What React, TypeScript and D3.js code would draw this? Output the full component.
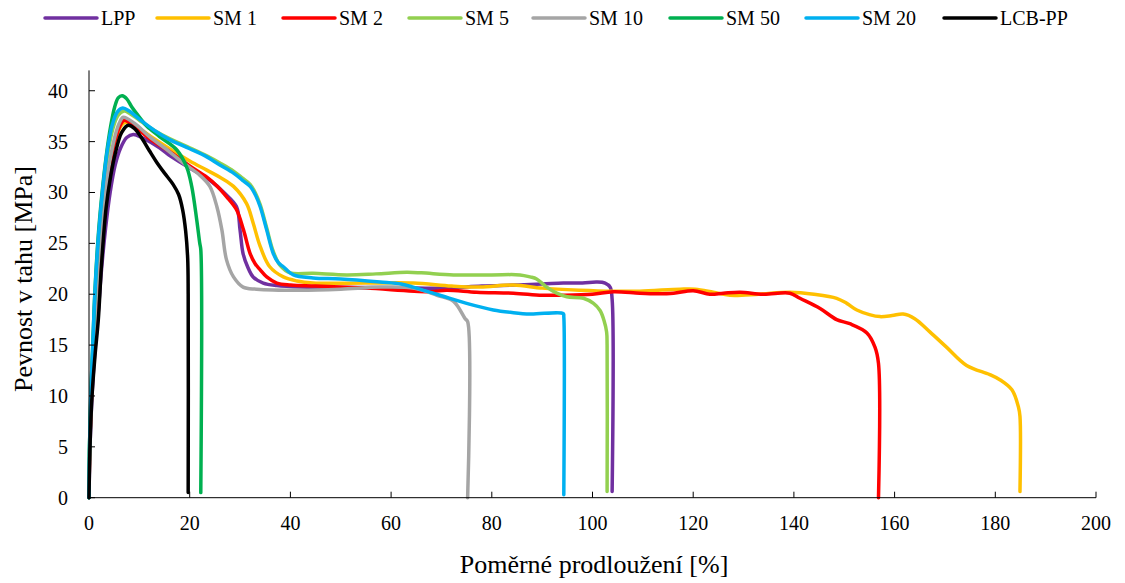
import React from "react";
import * as d3 from "d3";

type Pt = [number, number];

// Tensile curves: [relative elongation %, tensile strength MPa]
const lpp: Pt[] = [
  [0, 0], [0.2, 5], [0.6, 10], [1.1, 14], [1.8, 18], [2.5, 22.5], [3.3, 26.5], [4.2, 30], [5.2, 32.7],
  [6.3, 34.4], [7.5, 35.4], [8.8, 35.7], [10.5, 35.4], [14, 34.4], [16.1, 33.6], [20, 32.4], [24, 31.2],
  [27, 29.9], [29.3, 28.6], [30, 26.3], [30.6, 24.0], [31.5, 22.7], [32.6, 21.7], [34.6, 21.1], [37.3, 20.85],
  [42, 20.7], [55, 20.65], [65, 20.6], [71, 20.6], [78, 20.8], [84.3, 20.9], [90, 21.0], [94.2, 21.1],
  [98, 21.1], [100.8, 21.2], [102.5, 21.1], [103.5, 20.7], [103.9, 19.5], [103.9, 0.6],
];

const sm1: Pt[] = [
  [0, 0], [0.15, 5], [0.5, 10], [1.0, 15], [1.55, 20], [2.3, 25], [3.2, 29.2], [4.2, 32.6], [5.3, 35.1],
  [6.3, 36.5], [7.2, 36.9], [9, 36.6], [12, 35.6], [16, 34.3], [20, 33.1], [23.4, 32.2], [26, 31.5],
  [28.7, 30.6], [31.3, 28.9], [32.6, 27.0], [34, 24.7], [35.9, 22.7], [38.6, 21.7], [41.3, 21.3], [44.5, 21.1],
  [55, 21.1], [64.4, 21.1], [72, 20.8], [77.7, 20.7], [84.3, 20.9], [90, 20.6], [97.5, 20.4], [104, 20.3],
  [109.4, 20.3], [117.4, 20.5], [120.4, 20.5], [124, 20.2], [127.3, 19.9], [133, 20.0], [139.2, 20.2],
  [144, 20.0], [148.5, 19.6], [150.5, 19.1], [152.5, 18.45], [155, 18.0], [157.1, 17.8], [159.5, 17.9],
  [161.7, 18.05], [164, 17.6], [167, 16.3], [170.3, 14.8], [174.3, 13.0], [178.9, 12.1], [180.9, 11.6],
  [183.3, 10.6], [184.6, 8.9], [184.9, 8.0], [184.9, 0.6],
];

const sm2: Pt[] = [
  [0, 0], [0.15, 5], [0.5, 10], [1.0, 15], [1.55, 20], [2.3, 25], [3.2, 29.3], [4.2, 32.8], [5.3, 35.3],
  [6.2, 36.6], [7, 37.1], [9, 36.5], [12, 35.3], [16.7, 33.8], [20, 32.6], [23.4, 31.5], [25.5, 30.6],
  [27.3, 29.6], [29.3, 28.3], [30.7, 26.3], [32, 24.0], [33, 23.0], [34, 22.4], [35.3, 21.7], [37.3, 21.1],
  [40, 20.9], [45, 20.8], [55, 20.6], [67.7, 20.25], [71, 20.4], [77, 20.2], [84.3, 20.1], [90, 19.9],
  [94.2, 19.9], [100, 20.0], [104.1, 20.25], [109.4, 20.1], [113, 20.05], [116.1, 20.1], [120, 20.35],
  [123.3, 20.0], [126, 20.1], [129.3, 20.2], [133.9, 20.0], [139.2, 20.1], [141.2, 19.6], [145.2, 18.6],
  [148.5, 17.5], [151.1, 17.1], [154.5, 16.2], [156.1, 14.8], [156.8, 13.2], [156.8, 0],
];

const sm5: Pt[] = [
  [0, 0], [0.1, 5], [0.4, 10], [0.8, 15], [1.25, 20.2], [1.95, 25.5], [2.8, 30], [3.7, 33.7], [4.7, 36.2],
  [5.8, 37.6], [7, 38.0], [8, 37.8], [10, 37.1], [13, 36.1], [16, 35.3], [20, 34.4], [23.4, 33.6], [26, 32.9],
  [28.7, 32.1], [30.5, 31.4], [32, 30.8], [33, 30.0], [34, 28.8], [35.3, 26.5], [36.6, 24.2], [38, 22.8],
  [39.9, 22.1], [44.5, 22.05], [51.2, 21.9], [57, 22.0], [63.1, 22.15], [66, 22.1], [72.4, 21.9], [80, 21.9],
  [85.6, 21.9], [87.6, 21.7], [88.9, 21.5], [90.9, 20.7], [92.9, 20.1], [94.9, 19.75], [98.2, 19.6],
  [100.2, 19.1], [101.5, 18.4], [102.3, 17.4], [102.8, 16.3], [102.9, 15], [102.9, 0.6],
];

const sm10: Pt[] = [
  [0, 0], [0.15, 5], [0.5, 10], [0.95, 15], [1.5, 20], [2.2, 25], [3.1, 29.5], [4.1, 33], [5.2, 35.6],
  [6.0, 36.8], [6.8, 37.4], [9, 36.8], [12, 35.5], [16, 34.0], [19, 32.8], [22, 31.7], [24, 30.6],
  [25.4, 28.6], [26.4, 26.3], [27.3, 23.4], [28.7, 21.7], [30.6, 20.7], [33.3, 20.5], [42, 20.4], [50, 20.5],
  [58, 20.7], [64.4, 20.6], [69.1, 19.9], [72.4, 19.3], [74.7, 17.6], [75.2, 17.3], [75.2, 0],
];

const sm50: Pt[] = [
  [0, 0], [0.1, 5], [0.35, 10], [0.75, 15], [1.15, 20], [1.8, 25.5], [2.6, 30], [3.4, 33.5], [4.3, 36.5],
  [5.1, 38.4], [5.8, 39.3], [6.6, 39.5], [7.5, 39.2], [8.5, 38.4], [10, 37.4], [11.5, 36.5], [14, 35.5],
  [17.4, 34.2], [19.4, 32.5], [20.4, 30.6], [21.4, 27.3], [22.0, 25.0], [22.2, 24.4], [22.2, 0.5],
];

const sm20: Pt[] = [
  [0, 0], [0.1, 5], [0.35, 10], [0.75, 15], [1.2, 20.4], [1.9, 25.8], [2.7, 30.2], [3.6, 34], [4.6, 36.6],
  [5.6, 37.9], [6.7, 38.3], [8, 38.0], [10, 37.2], [13, 36.1], [16, 35.2], [20, 34.3], [23.4, 33.5],
  [26, 32.7], [28.7, 31.9], [30.5, 31.2], [32, 30.6], [33, 29.8], [34, 28.6], [35.3, 26.3], [36.6, 24.0],
  [37.6, 23.1], [38.6, 22.7], [40.6, 21.9], [44.5, 21.6], [50, 21.5], [57.8, 21.2], [62, 21.0], [64.4, 20.7],
  [67, 20.3], [69.7, 19.9], [75, 19.1], [80.3, 18.45], [84, 18.2], [87.6, 18.05], [94.2, 18.1], [94.3, 17.8],
  [94.3, 0.3],
];

const lcbpp: Pt[] = [
  [0, 0], [0.2, 5], [0.6, 10], [1.2, 14], [1.85, 17.5], [2.5, 23], [3.4, 28.5], [4.3, 31.6], [5.3, 34],
  [6.5, 35.9], [7.8, 36.6], [9, 36.3], [10.4, 35.4], [12, 34.1], [13.4, 33.0], [15, 31.9],
  [16.7, 30.8], [17.8, 29.8], [18.6, 28.3], [19.2, 26.2], [19.6, 23.5], [19.7, 20], [19.7, 0.5],
];

const seriesNames = ["LPP", "SM 1", "SM 2", "SM 5", "SM 10", "SM 50", "SM 20", "LCB-PP"];
const seriesData = [lpp, sm1, sm2, sm5, sm10, sm50, sm20, lcbpp];
const seriesColors = ["#7030A0", "#FFC000", "#FF0000", "#92D050", "#A5A5A5", "#00B050", "#00B0F0", "#000000"];

const xTicks = [0, 20, 40, 60, 80, 100, 120, 140, 160, 180, 200];
const yTicks = [0, 5, 10, 15, 20, 25, 30, 35, 40];

// Legend entry positions (left edge of each swatch)
const legendX = [45, 157, 283, 409, 533, 670, 806, 944];

const W = 1125;
const H = 583;
const FONT = '"Liberation Serif", "DejaVu Serif", serif';
const textStyle = { fontFamily: FONT };

export default function App() {
  const x = d3.scaleLinear().domain([0, 200]).range([89, 1096]);
  const y = d3.scaleLinear().domain([0, 42]).range([497.7, 70.4]);

  const line = d3
    .line<Pt>()
    .x((d) => x(d[0]))
    .y((d) => y(d[1]))
    .curve(d3.curveCatmullRom.alpha(0.5));

  const x0 = x(0);
  const y0 = y(0);

  return (
    <svg
      width={W}
      height={H}
      style={{ position: "absolute", left: 0, top: 0, background: "#fff" }}
    >
      {/* legend */}
      {seriesNames.map((name, i) => (
        <g key={name}>
          <line
            x1={legendX[i]}
            x2={legendX[i] + 52}
            y1={18}
            y2={18}
            stroke={seriesColors[i]}
            strokeWidth={3.5}
            strokeLinecap="round"
          />
          <text x={legendX[i] + 56} y={25} fontSize={20} fill="#000" style={textStyle}>
            {name}
          </text>
        </g>
      ))}

      {/* series */}
      {seriesData.map((d, i) => (
        <path
          key={seriesNames[i]}
          d={line(d) ?? ""}
          fill="none"
          stroke={seriesColors[i]}
          strokeWidth={3.5}
          strokeLinejoin="round"
          strokeLinecap="round"
        />
      ))}

      {/* axes */}
      <line x1={x0} x2={x0} y1={y(42)} y2={y0} stroke="#000" strokeWidth={1} />
      <line x1={x0} x2={x(200)} y1={y0} y2={y0} stroke="#000" strokeWidth={1} />
      {yTicks.map((t) => (
        <g key={"y" + t}>
          <line x1={x0} x2={x0 + 6} y1={y(t)} y2={y(t)} stroke="#000" strokeWidth={1} />
          <text x={68} y={y(t) + 7} fontSize={20} textAnchor="end" fill="#000" style={textStyle}>
            {t}
          </text>
        </g>
      ))}
      {xTicks.map((t) => (
        <g key={"x" + t}>
          <line x1={x(t)} x2={x(t)} y1={y0} y2={y0 - 6} stroke="#000" strokeWidth={1} />
          <text x={x(t)} y={530} fontSize={20} textAnchor="middle" fill="#000" style={textStyle}>
            {t}
          </text>
        </g>
      ))}

      {/* axis titles */}
      <text x={594} y={573} fontSize={26} textAnchor="middle" fill="#000" style={textStyle}>
        Poměrné prodloužení [%]
      </text>
      <text
        transform={`translate(32, 279) rotate(-90)`}
        fontSize={26}
        textAnchor="middle"
        fill="#000"
        style={textStyle}
      >
        Pevnost v tahu [MPa]
      </text>
    </svg>
  );
}
